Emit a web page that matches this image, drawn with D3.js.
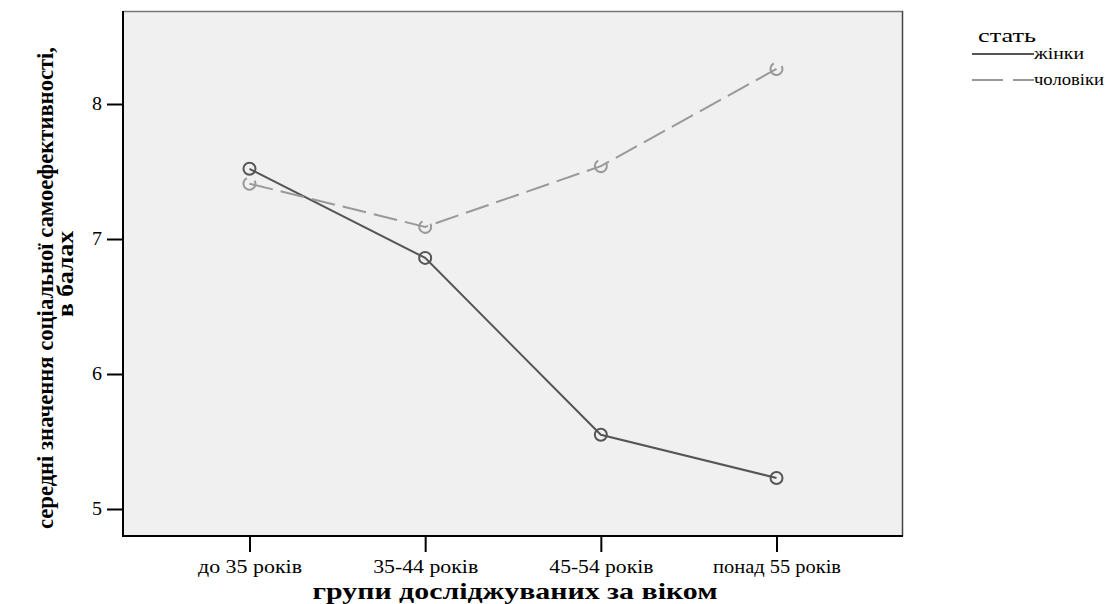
<!DOCTYPE html>
<html><head><meta charset="utf-8">
<script src="https://cdn.jsdelivr.net/npm/d3@7"></script>
<style>body{margin:0;background:#fff}svg{display:block}</style>
</head><body>
<svg id="c" width="1110" height="604"></svg>
<script>
const categories = ["до 35 років","35-44 років","45-54 років","понад 55 років"];
const women = [7.52, 6.86, 5.55, 5.23];
const men = [7.41, 7.09, 7.54, 8.26];
const yTicks = [5,6,7,8];
const seriesNames = ["жінки","чоловіки"];

const svg = d3.select("#c");
const L=123, R=903, T=11, B=536;
const font = "'Liberation Serif','Times New Roman',serif";
const x = d3.scalePoint().domain(categories).range([L,R]).padding(0.72);
const y = d3.scaleLinear().domain([4.8, 8.689]).range([B,T]);

svg.append("rect").attr("x",L).attr("y",T).attr("width",R-L).attr("height",B-T).attr("fill","#f0f0f0");
svg.append("line").attr("x1",L).attr("x2",R).attr("y1",T+0.5).attr("y2",T+0.5).attr("stroke","#777").attr("stroke-width",1.5);
svg.append("line").attr("x1",R-0.5).attr("x2",R-0.5).attr("y1",T).attr("y2",B).attr("stroke","#444").attr("stroke-width",1.5);
svg.append("line").attr("x1",L).attr("x2",L).attr("y1",T).attr("y2",B+1).attr("stroke","#000").attr("stroke-width",2);
svg.append("line").attr("x1",L).attr("x2",R).attr("y1",B).attr("y2",B).attr("stroke","#000").attr("stroke-width",2);

const yAxis = svg.append("g").attr("transform",`translate(${L},0)`)
  .call(d3.axisLeft(y).tickValues(yTicks).tickSize(16).tickPadding(5).tickFormat(d3.format("d")));
yAxis.select(".domain").remove();
yAxis.selectAll("line").attr("stroke","#000").attr("stroke-width",2);
yAxis.selectAll("text").attr("font-family",font).attr("font-size",18).attr("fill","#000")
  .attr("textLength",10).attr("lengthAdjust","spacingAndGlyphs");

const xAxis = svg.append("g").attr("transform",`translate(0,${B})`)
  .call(d3.axisBottom(x).tickSize(16).tickPadding(8));
xAxis.select(".domain").remove();
xAxis.selectAll("line").attr("stroke","#000").attr("stroke-width",2);
const tickW = {"до 35 років":104,"35-44 років":105,"45-54 років":104,"понад 55 років":128};
xAxis.selectAll("text").attr("font-family",font).attr("font-size",18).attr("fill","#000")
  .attr("textLength",d=>tickW[d]).attr("lengthAdjust","spacingAndGlyphs");

const line = d3.line().x((d,i)=>x(categories[i])).y(d=>y(d));
svg.append("path").datum(women).attr("d",line).attr("fill","none").attr("stroke","#555").attr("stroke-width",2);
svg.append("path").datum(men).attr("d",line).attr("fill","none").attr("stroke","#999").attr("stroke-width",2).attr("stroke-dasharray","24,8");

svg.selectAll(".mw").data(women).enter().append("circle")
  .attr("cx",(d,i)=>x(categories[i])).attr("cy",d=>y(d)).attr("r",6)
  .attr("fill","none").attr("stroke","#555").attr("stroke-width",2);
svg.selectAll(".mm").data(men).enter().append("circle")
  .attr("cx",(d,i)=>x(categories[i])).attr("cy",d=>y(d)).attr("r",6)
  .attr("fill","none").attr("stroke","#999").attr("stroke-width",2).attr("stroke-dasharray","28,10")
  .attr("transform",(d,i)=>`rotate(-30,${x(categories[i])},${y(d)})`);

// axis titles
svg.append("text").attr("x",515).attr("y",599).attr("text-anchor","middle")
  .attr("font-family",font).attr("font-weight","bold").attr("font-size",23)
  .attr("textLength",405).attr("lengthAdjust","spacingAndGlyphs")
  .text("групи досліджуваних за віком");
const yt = svg.append("g").attr("transform","rotate(-90)");
yt.append("text").attr("x",-288).attr("y",53).attr("text-anchor","middle")
  .attr("font-family",font).attr("font-weight","bold").attr("font-size",24)
  .attr("textLength",482).attr("lengthAdjust","spacingAndGlyphs")
  .text("середні значення соціальної самоефективності,");
yt.append("text").attr("x",-274).attr("y",73).attr("text-anchor","middle")
  .attr("font-family",font).attr("font-weight","bold").attr("font-size",24)
  .attr("textLength",86).attr("lengthAdjust","spacingAndGlyphs")
  .text("в балах");

// legend
const lg = svg.append("g");
lg.append("text").attr("x",1007).attr("y",42).attr("text-anchor","middle")
  .attr("font-family",font).attr("font-size",19).attr("textLength",58).attr("lengthAdjust","spacingAndGlyphs").text("стать");
const colors=["#555","#999"], dashes=[null,"31,10"];
const legW=[50,70];
seriesNames.forEach((n,i)=>{
  const yy = 54 + i*26;
  lg.append("line").attr("x1",972).attr("x2",1034).attr("y1",yy).attr("y2",yy)
    .attr("stroke",colors[i]).attr("stroke-width",2).attr("stroke-dasharray",dashes[i]);
  lg.append("text").attr("x",1034).attr("y",yy+5).attr("font-family",font).attr("font-size",17)
    .attr("textLength",legW[i]).attr("lengthAdjust","spacingAndGlyphs").text(n);
});
</script>
</body></html>
